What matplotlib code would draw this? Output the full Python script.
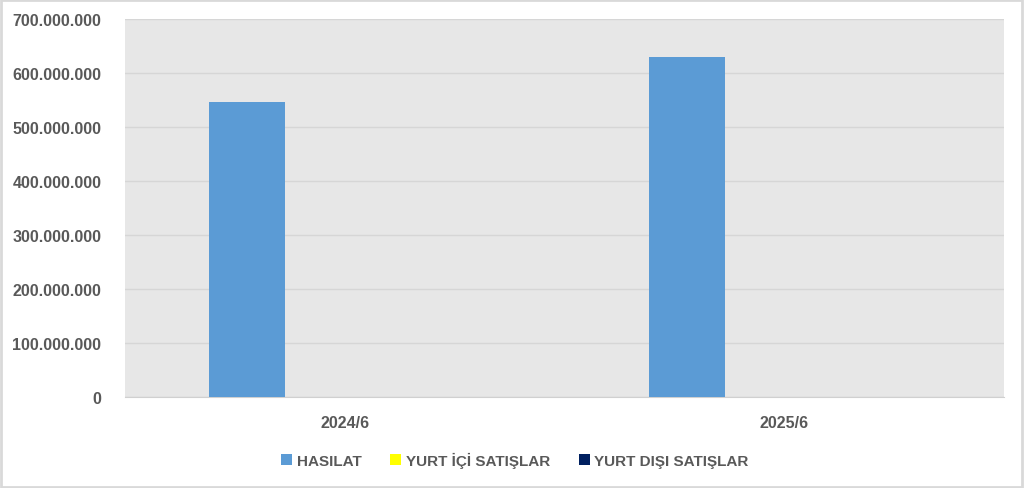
import numpy as np
import matplotlib.pyplot as plt
from matplotlib.patches import Rectangle

categories = ['2024/6', '2025/6']
hasilat = [546000000, 630000000]
yurt_ici = [0, 0]
yurt_disi = [0, 0]
yticks = np.arange(0, 700000001, 100000000)

plt.rcParams['font.family'] = ['Liberation Sans', 'DejaVu Sans']

fig = plt.figure(figsize=(10.24, 4.89), dpi=100)
ax = fig.add_axes([125 / 1024, 1 - 398 / 489, 879 / 1024, 378 / 489])
ax.set_facecolor('#e7e7e7')

x = np.arange(len(categories))
w = 0.173
step = 0.222
ax.bar(x - step, hasilat, w, color='#5b9bd5', label='HASILAT', zorder=3)
ax.bar(x, yurt_ici, w, color='#ffff00', label='YURT İÇİ SATIŞLAR', zorder=3)
ax.bar(x + step, yurt_disi, w, color='#002060', label='YURT DIŞI SATIŞLAR', zorder=3)

ax.set_xlim(-0.5, 1.5)
ax.set_ylim(0, 700000000)
ax.set_yticks(yticks)
ax.set_yticklabels([f'{v:,}'.replace(',', '.') for v in yticks])
ax.set_xticks(x)
ax.set_xticklabels(categories)
ax.yaxis.grid(True, color='#d6d6d6', linewidth=1, zorder=0)
ax.tick_params(length=0, labelsize=11.5, labelcolor='#595959')
for lab in ax.get_xticklabels() + ax.get_yticklabels():
    lab.set_fontweight('bold')
ax.tick_params(axis='x', pad=13)
ax.tick_params(axis='y', pad=17)
for s in ['top', 'right', 'left']:
    ax.spines[s].set_visible(False)
ax.spines['bottom'].set_color('#d0d0d0')

leg = fig.legend(loc='center', bbox_to_anchor=(0.503, 1 - 461 / 489), ncol=3,
                 frameon=False, handlelength=0.7, handleheight=0.7,
                 handletextpad=0.3, columnspacing=1.9,
                 prop={'weight': 'bold', 'size': 11})
for t in leg.get_texts():
    t.set_color('#595959')

fig.patches.append(Rectangle((0.001, 0.002), 0.997, 0.995, transform=fig.transFigure,
                             fill=False, edgecolor='#d9d9d9', linewidth=2))

fig.savefig('out.png', dpi=100)
